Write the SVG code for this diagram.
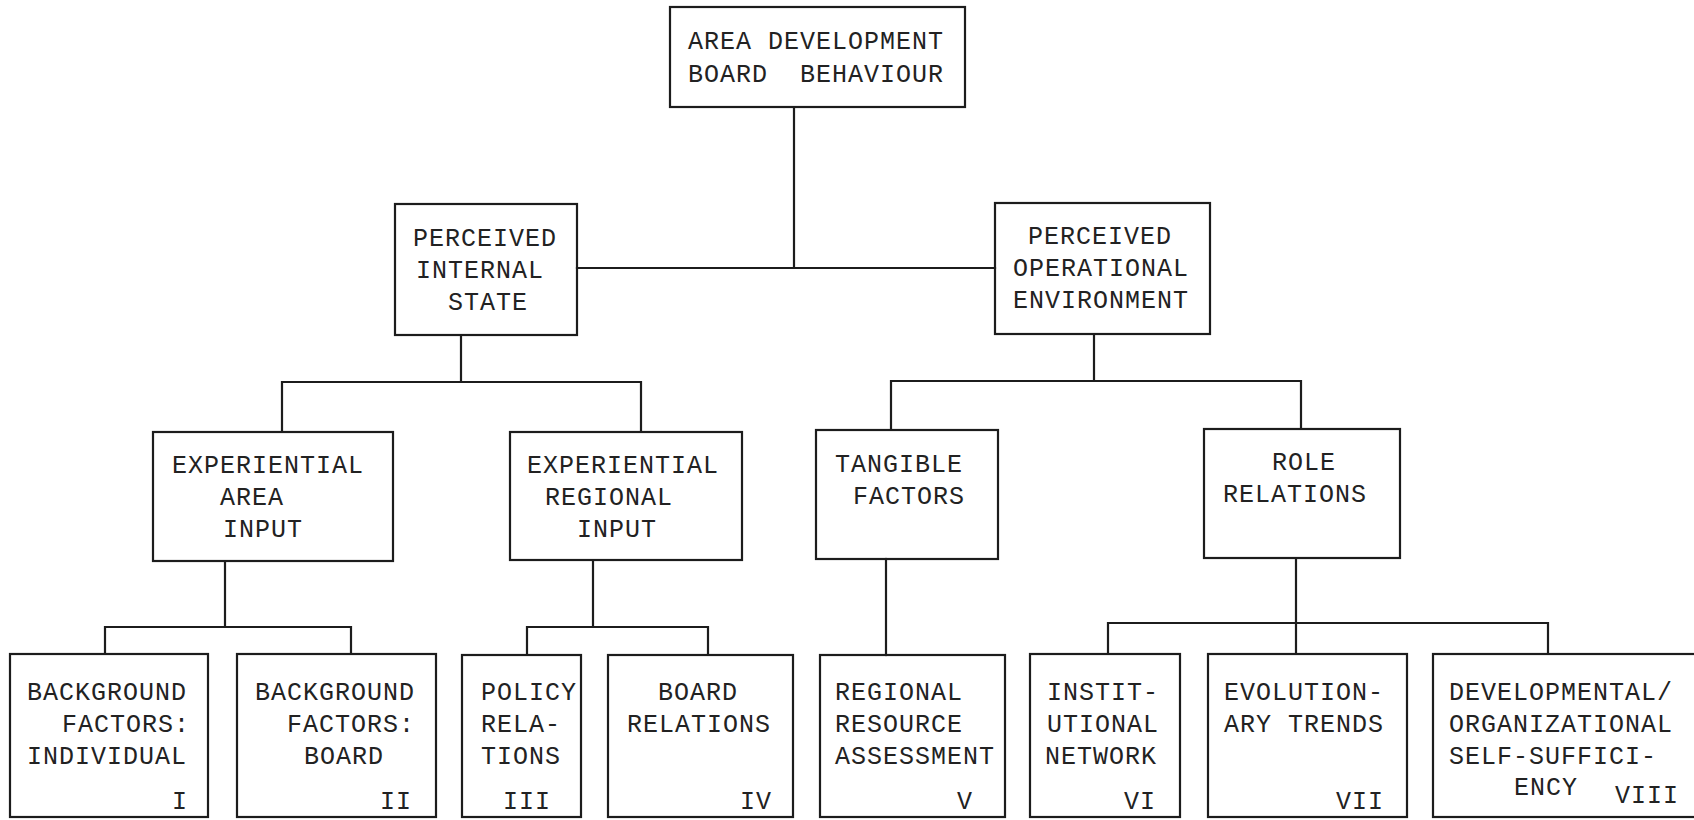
<svg xmlns="http://www.w3.org/2000/svg" width="1694" height="820" viewBox="0 0 1694 820">
  <style>
    .box { fill: none; stroke: #1c1c1c; stroke-width: 2.2; }
    .link { fill: none; stroke: #1c1c1c; stroke-width: 2.2; stroke-linecap: square; }
    text { font-family: "Liberation Mono", "DejaVu Sans Mono", monospace; font-size: 25px; letter-spacing: 1px; fill: #222; }
  </style>
  <rect x="0" y="0" width="1694" height="820" fill="#ffffff"/>

  <!-- connectors -->
  <g id="connectors">
    <path class="link" d="M794 107 V268 M577 268 H995"/>
    <path class="link" d="M461 335 V382 M282 382 H641 M282 382 V432 M641 382 V432"/>
    <path class="link" d="M1094 334 V381 M891 381 H1301 M891 381 V430 M1301 381 V429"/>
    <path class="link" d="M225 561 V627 M105 627 H351 M105 627 V654 M351 627 V654"/>
    <path class="link" d="M593 560 V627 M527 627 H708 M527 627 V655 M708 627 V655"/>
    <path class="link" d="M886 559 V655"/>
    <path class="link" d="M1296 558 V654 M1108 623 H1548 M1108 623 V654 M1548 623 V654"/>
  </g>

  <!-- root -->
  <g id="area-development-board-behaviour">
    <rect class="box" x="670" y="7" width="295" height="100"/>
    <text x="688" y="49">AREA DEVELOPMENT</text>
    <text x="688" y="82" xml:space="preserve">BOARD  BEHAVIOUR</text>
  </g>

  <!-- second level -->
  <g id="perceived-internal-state">
    <rect class="box" x="395" y="204" width="182" height="131"/>
    <text x="413" y="246">PERCEIVED</text>
    <text x="416" y="278">INTERNAL</text>
    <text x="448" y="310">STATE</text>
  </g>
  <g id="perceived-operational-environment">
    <rect class="box" x="995" y="203" width="215" height="131"/>
    <text x="1028" y="244">PERCEIVED</text>
    <text x="1013" y="276">OPERATIONAL</text>
    <text x="1013" y="308">ENVIRONMENT</text>
  </g>

  <!-- third level -->
  <g id="experiential-area-input">
    <rect class="box" x="153" y="432" width="240" height="129"/>
    <text x="172" y="473">EXPERIENTIAL</text>
    <text x="220" y="505">AREA</text>
    <text x="223" y="537">INPUT</text>
  </g>
  <g id="experiential-regional-input">
    <rect class="box" x="510" y="432" width="232" height="128"/>
    <text x="527" y="473">EXPERIENTIAL</text>
    <text x="545" y="505">REGIONAL</text>
    <text x="577" y="537">INPUT</text>
  </g>
  <g id="tangible-factors">
    <rect class="box" x="816" y="430" width="182" height="129"/>
    <text x="835" y="472">TANGIBLE</text>
    <text x="853" y="504">FACTORS</text>
  </g>
  <g id="role-relations">
    <rect class="box" x="1204" y="429" width="196" height="129"/>
    <text x="1272" y="470">ROLE</text>
    <text x="1223" y="502">RELATIONS</text>
  </g>

  <!-- fourth level -->
  <g id="background-individual">
    <rect class="box" x="10" y="654" width="198" height="163"/>
    <text x="27" y="700">BACKGROUND</text>
    <text x="62" y="732">FACTORS:</text>
    <text x="27" y="764">INDIVIDUAL</text>
    <text x="172" y="809">I</text>
  </g>
  <g id="background-board">
    <rect class="box" x="237" y="654" width="199" height="163"/>
    <text x="255" y="700">BACKGROUND</text>
    <text x="287" y="732">FACTORS:</text>
    <text x="304" y="764">BOARD</text>
    <text x="380" y="809">II</text>
  </g>
  <g id="policy-relations">
    <rect class="box" x="462" y="655" width="119" height="162"/>
    <text x="481" y="700">POLICY</text>
    <text x="481" y="732">RELA-</text>
    <text x="481" y="764">TIONS</text>
    <text x="503" y="809">III</text>
  </g>
  <g id="board-relations">
    <rect class="box" x="608" y="655" width="185" height="162"/>
    <text x="658" y="700">BOARD</text>
    <text x="627" y="732">RELATIONS</text>
    <text x="740" y="809">IV</text>
  </g>
  <g id="regional-resource-assessment">
    <rect class="box" x="820" y="655" width="185" height="162"/>
    <text x="835" y="700">REGIONAL</text>
    <text x="835" y="732">RESOURCE</text>
    <text x="835" y="764">ASSESSMENT</text>
    <text x="957" y="809">V</text>
  </g>
  <g id="institutional-network">
    <rect class="box" x="1030" y="654" width="150" height="163"/>
    <text x="1047" y="700">INSTIT-</text>
    <text x="1047" y="732">UTIONAL</text>
    <text x="1045" y="764">NETWORK</text>
    <text x="1124" y="809">VI</text>
  </g>
  <g id="evolutionary-trends">
    <rect class="box" x="1208" y="654" width="199" height="163"/>
    <text x="1224" y="700">EVOLUTION-</text>
    <text x="1224" y="732">ARY TRENDS</text>
    <text x="1336" y="809">VII</text>
  </g>
  <g id="organizational-self-sufficiency">
    <rect class="box" x="1433" y="654" width="270" height="163"/>
    <text x="1449" y="700">DEVELOPMENTAL/</text>
    <text x="1449" y="732">ORGANIZATIONAL</text>
    <text x="1449" y="764">SELF-SUFFICI-</text>
    <text x="1514" y="795">ENCY</text>
    <text x="1615" y="803">VIII</text>
  </g>
</svg>
